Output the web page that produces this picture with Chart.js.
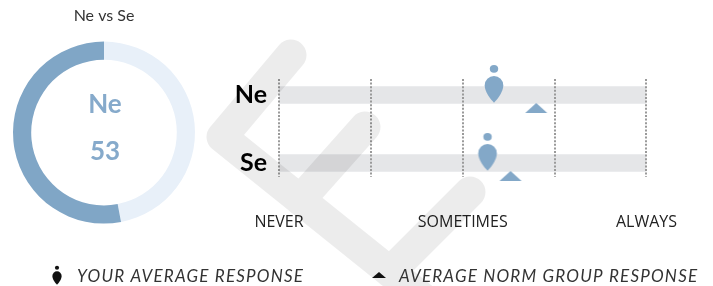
<!DOCTYPE html>
<html>
<head>
<meta charset="utf-8">
<script src="https://cdn.jsdelivr.net/npm/chart.js@4/dist/chart.umd.min.js"></script>
<style>
  html, body { margin: 0; padding: 0; background: #fff; }
  #wrap { position: relative; width: 713px; height: 286px; overflow: hidden; }
  #wrap canvas { position: absolute; left: 0; top: 0; }
</style>
</head>
<body>
<div id="wrap">
  <canvas id="main" width="713" height="286"></canvas>
  <canvas id="donut" width="210" height="240"></canvas>
</div>
<script>
// values
const donutTitle = 'Ne vs Se';
const donutLabel = 'Ne';
const donutValue = 53;

const rows = ['Ne', 'Se'];
const scaleTicks = [1, 2, 3, 4, 5];
const tickLabels = ['NEVER', '', 'SOMETIMES', '', 'ALWAYS'];
const yourResponse = [3.34, 3.27];
const normResponse = [3.80, 3.52];

const legendYour = 'YOUR AVERAGE RESPONSE';
const legendNorm = 'AVERAGE NORM GROUP RESPONSE';

const blue = '#83a8c8';
Chart.defaults.font.family = 'Lato, "Open Sans", sans-serif';

// person marker: head + rounded drop, cy is the row centre
function drawPerson(ctx, cx, cy, s, color) {
    ctx.fillStyle = color;
    ctx.beginPath();
    ctx.ellipse(cx, cy - 26.2 * s, 4.2 * s, 3.9 * s, 0, 0, Math.PI * 2);
    ctx.fill();
    let w = 9.3 * s, by = cy - 9.7 * s, tip = cy + 7.7 * s;
    ctx.beginPath();
    ctx.moveTo(cx - w, by);
    ctx.arc(cx, by, w, Math.PI, Math.PI * 2);
    ctx.bezierCurveTo(cx + w, by + 7 * s, cx + 3 * s, tip - 3 * s, cx, tip);
    ctx.bezierCurveTo(cx - 3 * s, tip - 3 * s, cx - w, by + 7 * s, cx - w, by);
    ctx.closePath();
    ctx.fill();
}

function drawTriangle(ctx, cx, top, w, h, color) {
    ctx.fillStyle = color;
    ctx.beginPath();
    ctx.moveTo(cx, top);
    ctx.lineTo(cx + w / 2, top + h);
    ctx.lineTo(cx - w / 2, top + h);
    ctx.closePath();
    ctx.fill();
}

function makeCanvas(w, h, draw) {
    let c = document.createElement('canvas');
    c.width = w;
    c.height = h;
    draw(c.getContext('2d'));
    return c;
}

let personMarker = makeCanvas(22, 64, ctx => drawPerson(ctx, 11, 32, 1, blue));
let normMarker = makeCanvas(24, 38, ctx => drawTriangle(ctx, 12, 27, 22, 10, blue));

// background watermark + legend
let extras = {
    id: 'extras',
    afterDraw(chart) {
        let ctx = chart.ctx;
        ctx.save();
        ctx.strokeStyle = 'rgba(0,0,0,0.075)';
        ctx.lineWidth = 31;
        ctx.lineCap = 'round';
        ctx.lineJoin = 'round';
        ctx.beginPath();
        ctx.moveTo(291, 55);
        ctx.lineTo(222, 137);
        ctx.lineTo(440, 312);
        ctx.moveTo(300, 200);
        ctx.lineTo(365, 127);
        ctx.moveTo(390, 272);
        ctx.lineTo(470, 192);
        ctx.stroke();
        ctx.restore();

        ctx.save();
        drawPerson(ctx, 57, 280.8, 0.5, '#111');
        drawTriangle(ctx, 379, 272, 14, 6, '#111');
        ctx.fillStyle = '#333';
        ctx.font = 'italic 17px Lato';
        ctx.letterSpacing = '1.2px';
        ctx.textBaseline = 'alphabetic';
        ctx.fillText(legendYour, 77, 282);
        ctx.fillText(legendNorm, 399, 282);
        ctx.restore();
    }
};

new Chart(document.getElementById('main'), {
    type: 'scatter',
    data: {
        datasets: [
            {
                type: 'scatter',
                label: legendYour,
                data: rows.map((r, i) => ({x: yourResponse[i], y: i})),
                pointStyle: personMarker,
                clip: false,
                order: 1
            },
            {
                type: 'scatter',
                label: legendNorm,
                data: rows.map((r, i) => ({x: normResponse[i], y: i})),
                pointStyle: normMarker,
                clip: false,
                order: 2
            },
            {
                type: 'bar',
                indexAxis: 'y',
                data: rows.map((r, i) => ({x: [scaleTicks[0], scaleTicks[scaleTicks.length - 1]], y: i})),
                backgroundColor: '#e5e6e8',
                barThickness: 17,
                order: 3
            }
        ]
    },
    options: {
        responsive: false,
        animation: false,
        events: [],
        layout: {padding: {top: 79, right: 66, bottom: 0, left: 0}},
        plugins: {legend: {display: false}, tooltip: {enabled: false}},
        scales: {
            x: {
                type: 'linear',
                min: 1,
                max: 5,
                offset: false,
                afterBuildTicks: axis => { axis.ticks = scaleTicks.map(v => ({value: v})); },
                afterFit: axis => { axis.height = 109; },
                grid: {color: '#9a9a9a', lineWidth: 2, drawTicks: false, offset: false, z: 1},
                border: {display: false, dash: [2, 1.6]},
                ticks: {
                    padding: 36,
                    color: '#222',
                    font: {size: 16, family: '"Open Sans"'},
                    maxRotation: 0,
                    autoSkip: false,
                    callback: (v, i) => tickLabels[i]
                }
            },
            y: {
                type: 'linear',
                reverse: true,
                offset: false,
                min: -0.235,
                max: 1.206,
                afterBuildTicks: axis => { axis.ticks = rows.map((r, i) => ({value: i})); },
                afterFit: axis => { axis.width = 279; },
                grid: {display: false, drawTicks: false, offset: false},
                border: {display: false},
                ticks: {
                    padding: 12,
                    color: '#000',
                    font: {size: 25, weight: 'bold'},
                    callback: v => rows[v]
                }
            }
        }
    },
    plugins: [extras]
});

let centerText = {
    id: 'centerText',
    afterDraw(chart) {
        let ctx = chart.ctx;
        let a = chart.chartArea;
        let cx = (a.left + a.right) / 2 + 1;
        ctx.save();
        ctx.fillStyle = '#86aacb';
        ctx.font = 'bold 26px Lato';
        ctx.textAlign = 'center';
        ctx.textBaseline = 'middle';
        ctx.fillText(donutLabel, cx, 105);
        ctx.fillText(String(donutValue), cx, 152);
        ctx.restore();
    }
};

new Chart(document.getElementById('donut'), {
    type: 'doughnut',
    data: {
        labels: ['', donutLabel],
        datasets: [{
            data: [100 - donutValue, donutValue],
            backgroundColor: ['#e8f0f9', '#80a6c6'],
            borderWidth: 0
        }]
    },
    options: {
        responsive: false,
        animation: false,
        events: [],
        cutout: '80%',
        layout: {padding: {left: 13, right: 15, bottom: 16}},
        plugins: {
            legend: {display: false},
            tooltip: {enabled: false},
            title: {
                display: true,
                text: donutTitle,
                color: '#333',
                font: {size: 16, weight: 'normal'},
                padding: {top: 6, bottom: 16}
            }
        }
    },
    plugins: [centerText]
});
</script>
</body>
</html>
